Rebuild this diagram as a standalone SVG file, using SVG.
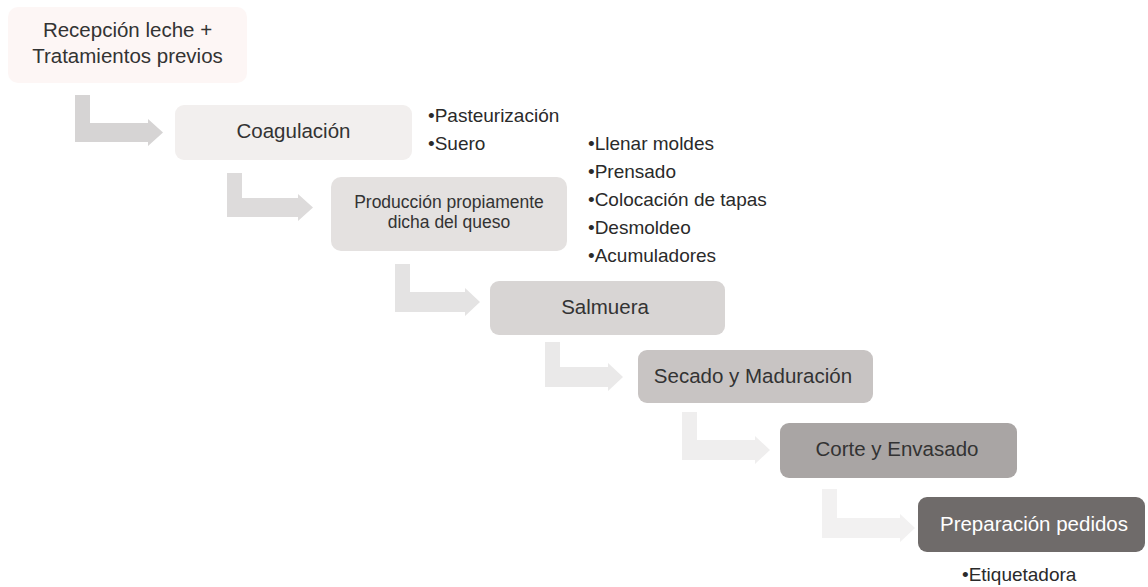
<svg xmlns="http://www.w3.org/2000/svg" width="1148" height="587" viewBox="0 0 1148 587">
<style>
  .lbl { font-family: "Liberation Sans", Arial, sans-serif; font-size: 20.5px; fill: #333333; text-anchor: middle; }
  .sm { font-size: 17.5px; }
  .bul { font-family: "Liberation Sans", Arial, sans-serif; font-size: 19px; fill: #2a2a2a; }
  .box { stroke: none; }
</style>
<rect width="1148" height="587" fill="#ffffff"/>
<g id="connectors">
  <path d="M75,95 H90 V123 H148 V119 L163,132.5 L148,146 V142 H75 Z" fill="#d6d4d4"/>
  <path d="M227,173 H242 V198 H298 V194 L313,207.5 L298,221 V217 H227 Z" fill="#dddbdb"/>
  <path d="M395,264 H410 V292 H465 V288 L480,302 L465,316 V312 H395 Z" fill="#e4e3e3"/>
  <path d="M545,342 H560 V367 H608 V363 L623,377 L608,391 V387 H545 Z" fill="#eae9e9"/>
  <path d="M682,412 H697 V440 H755 V436 L770,450 L755,464 V460 H682 Z" fill="#efeeee"/>
  <path d="M822,489 H837 V518 H900 V514 L915,528 L900,542 V538 H822 Z" fill="#f2f1f1"/>
</g>
<g id="n1">
  <rect class="box" x="8" y="7" width="239" height="76" rx="10" fill="#fdf6f5"/>
  <text class="lbl" x="127.5" y="37">Recepción leche +</text>
  <text class="lbl" x="127.5" y="63">Tratamientos previos</text>
</g>
<g id="n2">
  <rect class="box" x="175" y="105" width="237" height="55" rx="9" fill="#f2efee"/>
  <text class="lbl" x="293.5" y="138">Coagulación</text>
</g>
<g id="n2-notes">
  <text class="bul" x="428" y="122">•Pasteurización</text>
  <text class="bul" x="428" y="150">•Suero</text>
</g>
<g id="n3">
  <rect class="box" x="331" y="177" width="236" height="74" rx="10" fill="#e4e1e0"/>
  <text class="lbl sm" x="449" y="208">Producción propiamente</text>
  <text class="lbl sm" x="449" y="228">dicha del queso</text>
</g>
<g id="n3-notes">
  <text class="bul" x="588" y="150">•Llenar moldes</text>
  <text class="bul" x="588" y="178">•Prensado</text>
  <text class="bul" x="588" y="206">•Colocación de tapas</text>
  <text class="bul" x="588" y="234">•Desmoldeo</text>
  <text class="bul" x="588" y="262">•Acumuladores</text>
</g>
<g id="n4">
  <rect class="box" x="490" y="281" width="235" height="54" rx="9" fill="#d8d5d4"/>
  <text class="lbl" x="605" y="314">Salmuera</text>
</g>
<g id="n5">
  <rect class="box" x="638" y="350" width="235" height="53" rx="9" fill="#c8c4c3"/>
  <text class="lbl" x="753" y="383">Secado y Maduración</text>
</g>
<g id="n6">
  <rect class="box" x="780" y="423" width="237" height="55" rx="9" fill="#a9a5a4"/>
  <text class="lbl" x="897" y="456">Corte y Envasado</text>
</g>
<g id="n7">
  <rect class="box" x="918" y="497" width="227" height="55" rx="9" fill="#6f6b6a"/>
  <text class="lbl" x="1034" y="531" fill="#ffffff" style="fill:#ffffff">Preparación pedidos</text>
</g>
<g id="n7-notes">
  <text class="bul" x="962" y="581">•Etiquetadora</text>
</g>
</svg>
